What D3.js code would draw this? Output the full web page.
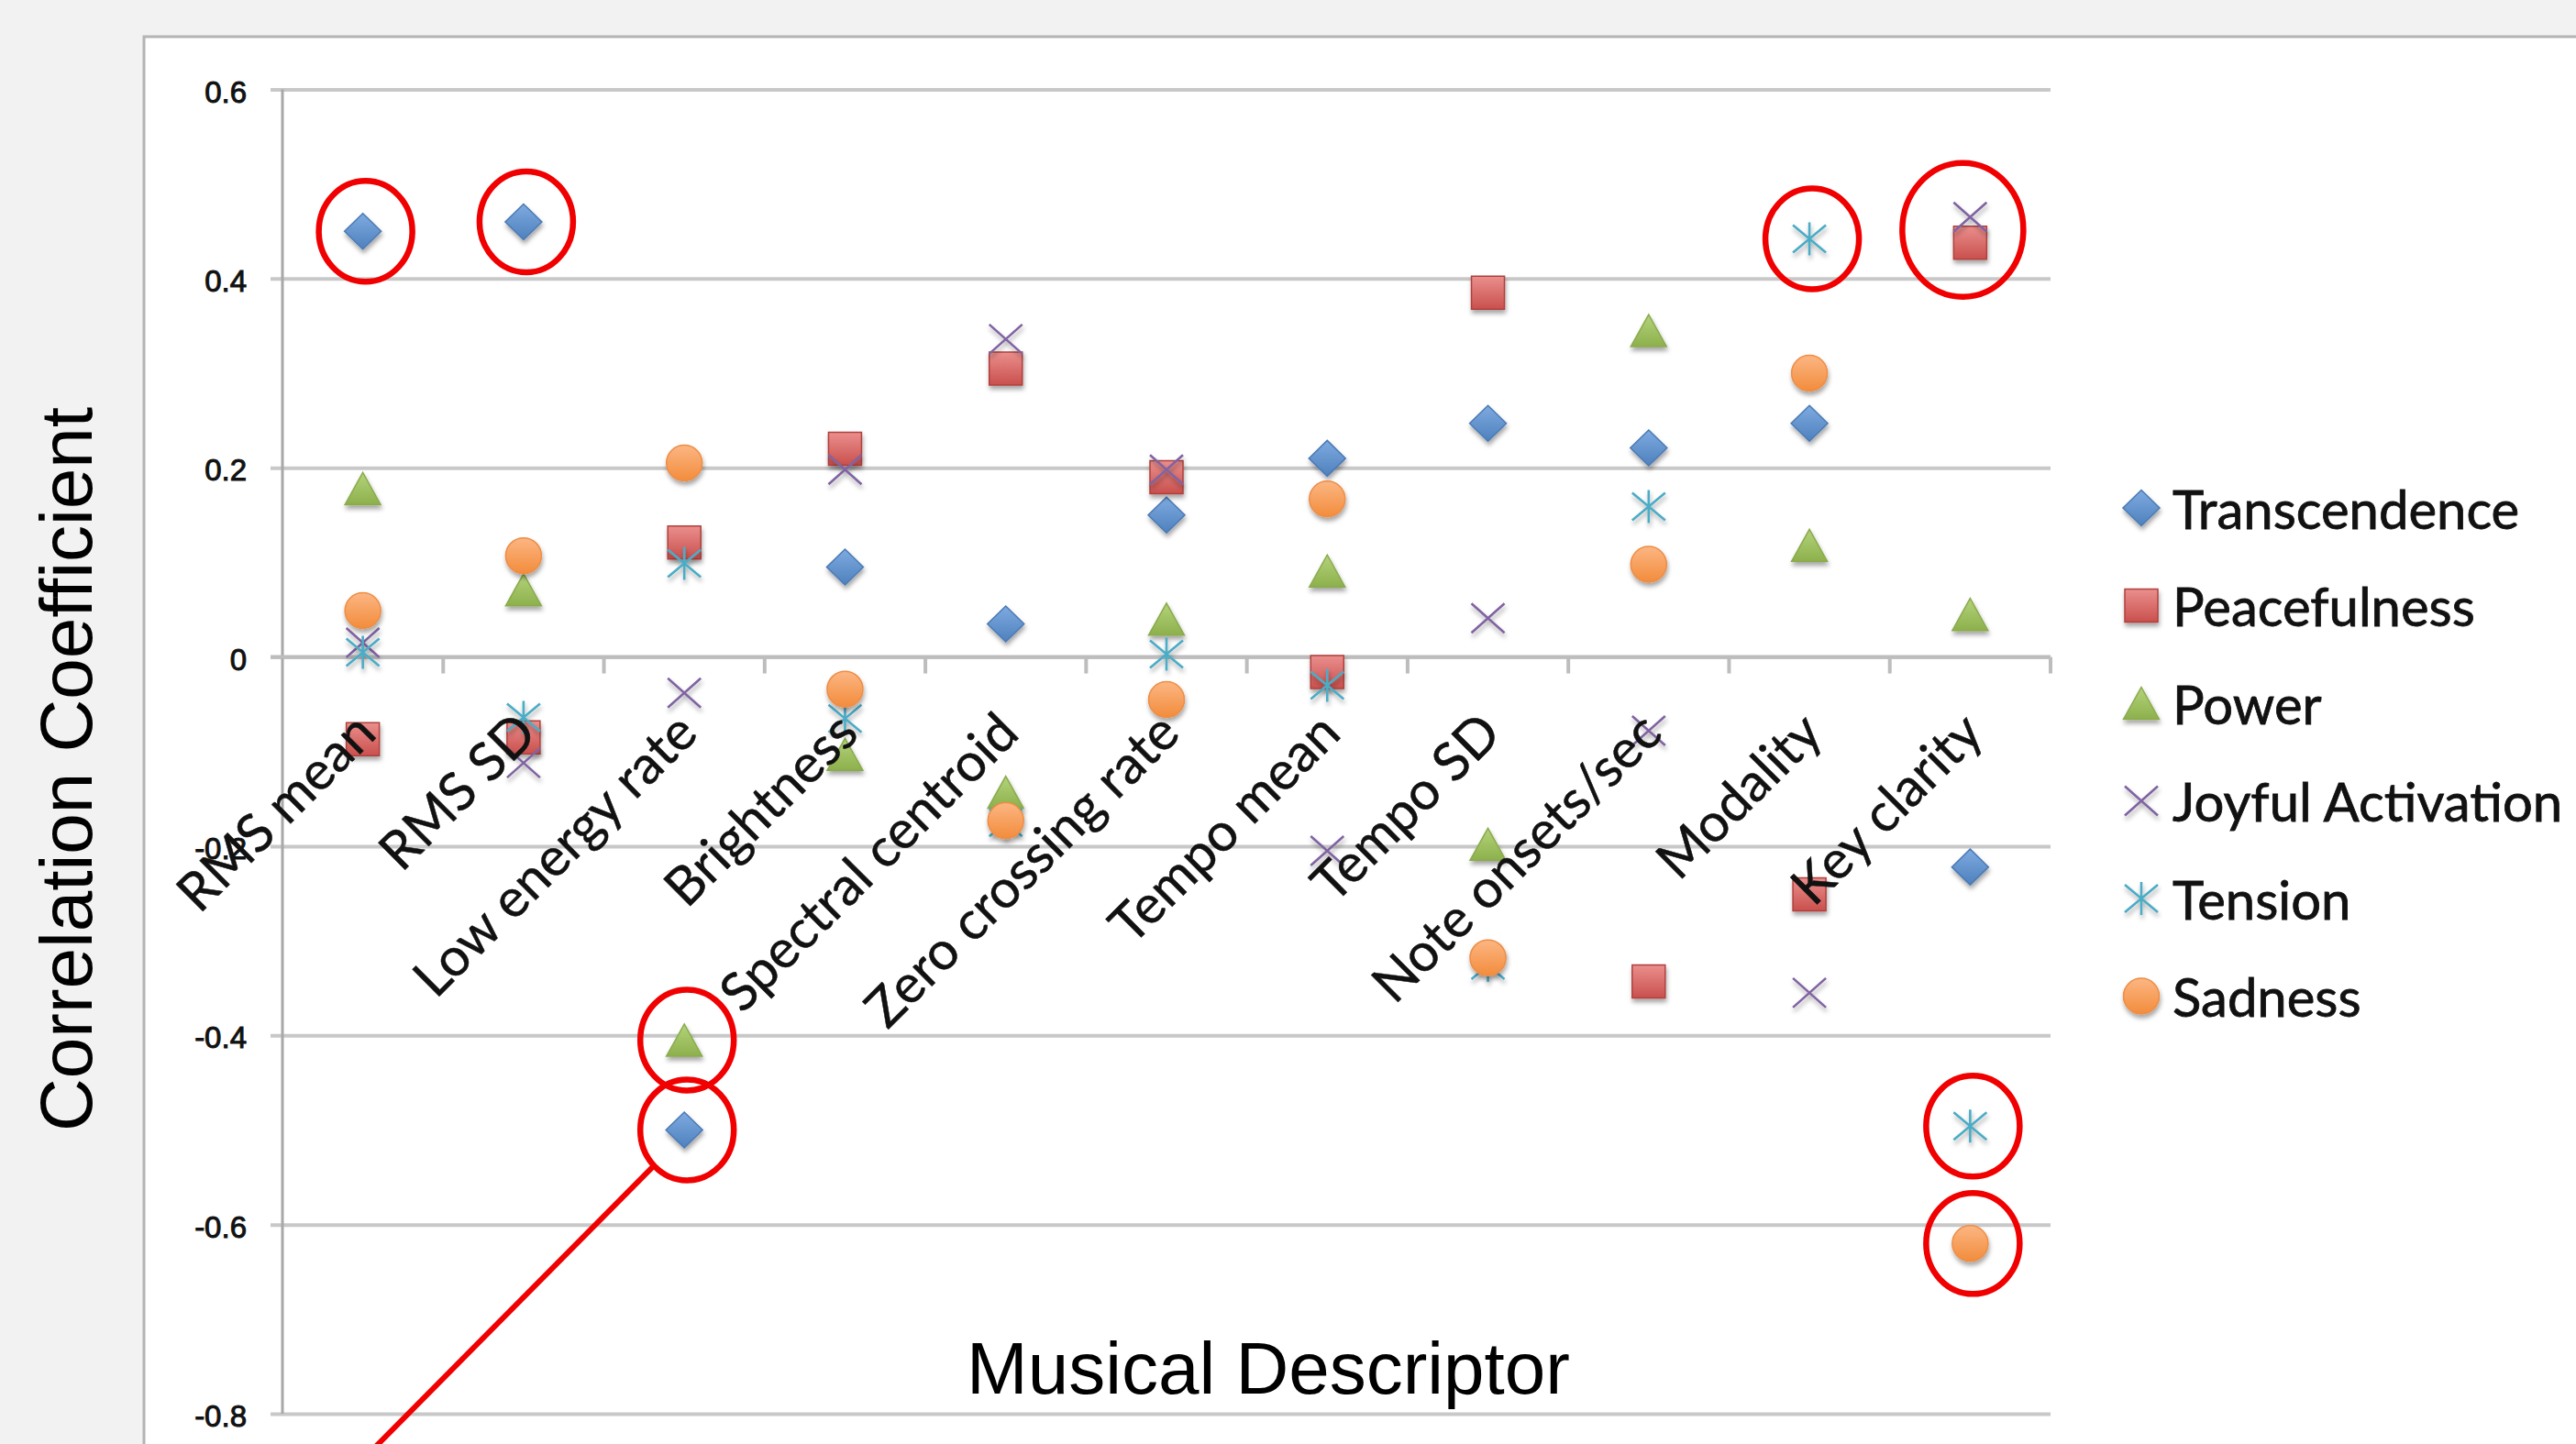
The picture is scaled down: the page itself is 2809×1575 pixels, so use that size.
<!DOCTYPE html>
<html>
<head>
<meta charset="utf-8">
<script src="https://cdn.jsdelivr.net/npm/d3@7"></script>
<style>
  html, body { margin: 0; padding: 0; background: #f2f2f2; }
  svg { display: block; }
</style>
</head>
<body>
<svg id="chart" width="2809" height="1575"></svg>
<script>
// Correlations between musical descriptors and emotion factors
const categories = ["RMS mean", "RMS SD", "Low energy rate", "Brightness", "Spectral centroid",
  "Zero crossing rate", "Tempo mean", "Tempo SD", "Note onsets/sec", "Modality", "Key clarity"];

const transcendence = [0.45, 0.46, -0.50, 0.095, 0.035, 0.15, 0.21, 0.247, 0.221, 0.247, -0.222];
const peacefulness  = [-0.087, -0.085, 0.121, 0.22, 0.305, 0.19, -0.016, 0.385, -0.343, -0.251, 0.438];
const power         = [0.178, 0.071, -0.405, -0.103, -0.143, 0.040, 0.091, -0.198, 0.345, 0.118, 0.045];
const joyful        = [0.015, -0.112, -0.038, 0.198, 0.336, 0.198, -0.205, 0.041, -0.078, -0.355, 0.465];
const tension       = [0.005, -0.064, 0.099, -0.065, -0.175, 0.003, -0.030, -0.326, 0.159, 0.442, -0.496];
const sadness       = [0.049, 0.107, 0.205, -0.034, -0.173, -0.045, 0.167, -0.318, 0.098, 0.300, -0.620];

const seriesNames = ["Transcendence", "Peacefulness", "Power", "Joyful Activation", "Tension", "Sadness"];
const seriesValues = [transcendence, peacefulness, power, joyful, tension, sadness];

const yTicks = [0.6, 0.4, 0.2, 0, -0.2, -0.4, -0.6, -0.8];
const yTickLabels = ["0.6", "0.4", "0.2", "0", "-0.2", "-0.4", "-0.6", "-0.8"];

// highlighted points: [category, list of series]
const highlights = [
  ["RMS mean", ["Transcendence"]],
  ["RMS SD", ["Transcendence"]],
  ["Modality", ["Tension"]],
  ["Key clarity", ["Joyful Activation", "Peacefulness"]],
  ["Low energy rate", ["Power"]],
  ["Low energy rate", ["Transcendence"]],
  ["Key clarity", ["Tension"]],
  ["Key clarity", ["Sadness"]]
];

// ---------- styling ----------
const markerStyle = {
  "Transcendence":     { shape: "diamond",  top: "#7eaae0", bottom: "#4f81bd", stroke: "#4a7ab5" },
  "Peacefulness":      { shape: "square",   top: "#ea8f8d", bottom: "#c9504d", stroke: "#b0403e" },
  "Power":             { shape: "triangle", top: "#b3d37a", bottom: "#8db04c", stroke: "#8aab4c" },
  "Joyful Activation": { shape: "x",        color: "#8064a2" },
  "Tension":           { shape: "asterisk", color: "#4bacc6" },
  "Sadness":           { shape: "circle",   top: "#fcb683", bottom: "#f28c3c", stroke: "#ee8d45" }
};

function shapePath(shape) {
  switch (shape) {
    case "diamond":  return "M0,-19.5L20,0L0,19.5L-20,0Z";
    case "square":   return "M-18,-18H18V18H-18Z";
    case "triangle": return "M0,-17.5L19.5,17.5L-19.5,17.5Z";
    case "circle":   return d3.symbol(d3.symbolCircle, Math.PI * 19.5 * 19.5)();
    case "x":        return "M-18,-16L18,16M18,-16L-18,16";
    case "asterisk": return "M-18,-15L18,15M18,-15L-18,15M0,-18V18";
  }
}

const svg = d3.select("#chart");
const W = 2809, H = 1575;

const defs = svg.append("defs");
const shadow = defs.append("filter").attr("id", "shadow")
  .attr("x", "-50%").attr("y", "-50%").attr("width", "200%").attr("height", "200%");
shadow.append("feDropShadow").attr("dx", 1).attr("dy", 4).attr("stdDeviation", 2.6)
  .attr("flood-color", "#000").attr("flood-opacity", 0.35);

seriesNames.forEach((name, i) => {
  const st = markerStyle[name];
  if (st.top) {
    const g = defs.append("linearGradient").attr("id", "grad" + i)
      .attr("x1", 0).attr("y1", 0).attr("x2", 0).attr("y2", 1);
    g.append("stop").attr("offset", "0%").attr("stop-color", st.top);
    g.append("stop").attr("offset", "100%").attr("stop-color", st.bottom);
  }
});

function drawMarker(sel, name) {
  const i = seriesNames.indexOf(name);
  const st = markerStyle[name];
  const p = sel.append("path").attr("d", shapePath(st.shape)).attr("filter", "url(#shadow)");
  if (st.top) {
    p.attr("fill", `url(#grad${i})`).attr("stroke", st.stroke).attr("stroke-width", 1.5);
  } else {
    p.attr("fill", "none").attr("stroke", st.color).attr("stroke-width", 2.6);
  }
}

// ---------- background panel ----------
svg.append("rect").attr("x", 0).attr("y", 0).attr("width", W).attr("height", H).attr("fill", "#f2f2f2");
svg.append("rect").attr("x", 157).attr("y", 40).attr("width", W).attr("height", H)
  .attr("fill", "#ffffff").attr("stroke", "#b4b4b4").attr("stroke-width", 3);

// ---------- scales ----------
const x = d3.scaleBand().domain(categories).range([308, 2236]).paddingInner(0).paddingOuter(0);
const y = d3.scaleLinear().domain([-0.8, 0.6]).range([1542, 97.5]);
const cx = c => x(c) + x.bandwidth() / 2;

// gridlines (they also carry the short outside ticks on the left)
const grid = svg.append("g").attr("transform", `translate(2236,0)`)
  .call(d3.axisLeft(y).tickValues(yTicks).tickSize(2236 - 295).tickFormat(""));
grid.select(".domain").remove();
grid.selectAll(".tick line").attr("stroke", "#c8c8c8").attr("stroke-width", 4);

// y tick labels
const yLab = svg.append("g").attr("transform", `translate(269,0)`)
  .call(d3.axisLeft(y).tickValues(yTicks).tickSize(0).tickPadding(0)
    .tickFormat((d, i) => yTickLabels[i]));
yLab.select(".domain").remove();
yLab.selectAll("text")
  .attr("font-family", "'Liberation Sans', Arial, sans-serif")
  .attr("font-size", 33).attr("fill", "#111").attr("stroke", "#111").attr("stroke-width", 1.0)
  .attr("dy", null).attr("dominant-baseline", "auto")
  .attr("y", 13.5);

// y axis line
svg.append("line").attr("x1", 308).attr("x2", 308).attr("y1", y(0.6)).attr("y2", y(-0.8))
  .attr("stroke", "#a8a8a8").attr("stroke-width", 3);

// x axis line at zero with tick marks between categories
svg.append("line").attr("x1", 295).attr("x2", 2236).attr("y1", y(0)).attr("y2", y(0))
  .attr("stroke", "#bdbdbd").attr("stroke-width", 4);
const boundaries = categories.map(c => x(c)).concat([x.range()[1]]);
svg.append("g").selectAll("line").data(boundaries.slice(1)).join("line")
  .attr("x1", d => d).attr("x2", d => d).attr("y1", y(0)).attr("y2", y(0) + 18)
  .attr("stroke", "#bdbdbd").attr("stroke-width", 4);

// ---------- data markers ----------
const marks = svg.append("g");
seriesNames.forEach((name, si) => {
  const g = marks.append("g");
  seriesValues[si].forEach((v, ci) => {
    const m = g.append("g").attr("transform", `translate(${cx(categories[ci])},${y(v)})`);
    drawMarker(m, name);
  });
});

// ---------- category labels ----------
svg.append("g").selectAll("text").data(categories).join("text")
  .attr("transform", d => `translate(${cx(d) + 17},${y(0) + 86}) rotate(-45)`)
  .attr("text-anchor", "end")
  .attr("font-family", "Lato, 'Open Sans', sans-serif")
  .attr("font-size", 58).attr("fill", "#111").attr("stroke", "#111").attr("stroke-width", 0.5)
  .text(d => d);

// ---------- axis titles ----------
svg.append("text")
  .attr("transform", `translate(100,839) rotate(-90)`)
  .attr("text-anchor", "middle")
  .attr("font-family", "'Liberation Sans', Arial, sans-serif")
  .attr("font-size", 80).attr("fill", "#000")
  .text("Correlation Coefficient");

svg.append("text")
  .attr("x", 1383).attr("y", 1520)
  .attr("text-anchor", "middle")
  .attr("font-family", "'Liberation Sans', Arial, sans-serif")
  .attr("font-size", 80).attr("fill", "#000")
  .text("Musical Descriptor");

// ---------- legend ----------
const legend = svg.append("g");
seriesNames.forEach((name, i) => {
  const ly = 554 + i * 106.5;
  const m = legend.append("g").attr("transform", `translate(2335,${ly})`);
  drawMarker(m, name);
  legend.append("text").attr("x", 2369).attr("y", ly + 22.5)
    .attr("font-family", "Lato, 'Open Sans', sans-serif")
    .attr("font-size", 58).attr("fill", "#111").attr("stroke", "#111").attr("stroke-width", 0.8)
    .text(name);
});

// ---------- red highlight rings ----------
const rings = svg.append("g");
let lowEnergyRing = null;
highlights.forEach(([cat, names]) => {
  const vals = names.map(n => seriesValues[seriesNames.indexOf(n)][categories.indexOf(cat)]);
  const cy = y(d3.mean(vals));
  const extra = names.length - 1;
  const rx = 51 + 15 * extra, ry = 55 + 18 * extra;
  const ex = cx(cat) + (extra ? -8 : 3);
  rings.append("ellipse").attr("cx", ex).attr("cy", cy).attr("rx", rx).attr("ry", ry)
    .attr("fill", "none").attr("stroke", "#f00000").attr("stroke-width", 6.5);
  if (cat === "Low energy rate" && names[0] === "Transcendence") lowEnergyRing = { ex, cy, rx, ry };
});

// pointer line leaving the ring down-left
if (lowEnergyRing) {
  const a = 0.75 * Math.PI;
  const sx = lowEnergyRing.ex + lowEnergyRing.rx * Math.cos(a);
  const sy = lowEnergyRing.cy + lowEnergyRing.ry * Math.sin(a);
  const len = (H + 20 - sy);
  rings.append("line").attr("x1", sx).attr("y1", sy)
    .attr("x2", sx - len * 0.99).attr("y2", sy + len)
    .attr("stroke", "#f00000").attr("stroke-width", 6);
}
</script>
</body>
</html>
